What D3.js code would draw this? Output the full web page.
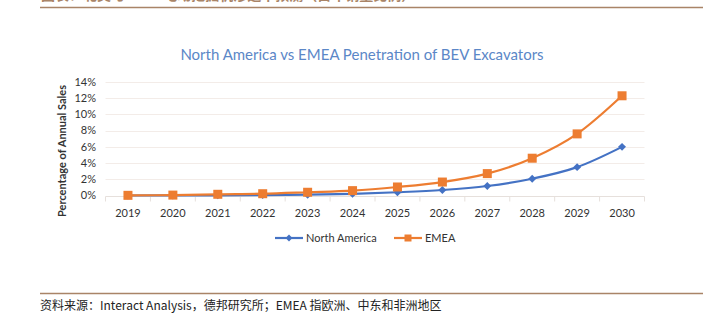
<!DOCTYPE html>
<html>
<head>
<meta charset="utf-8">
<script src="https://cdn.jsdelivr.net/npm/d3@7"></script>
<style>
  html, body { margin: 0; padding: 0; background: #fff; }
  svg { display: block; }
</style>
</head>
<body>
<svg id="chart"></svg>
<script>
// categories and series (share of annual excavator sales, %)
const years = ["2019", "2020", "2021", "2022", "2023", "2024", "2025", "2026", "2027", "2028", "2029", "2030"];
const northAmerica = [0.0, 0.01, 0.02, 0.05, 0.1, 0.2, 0.4, 0.68, 1.17, 2.07, 3.5, 6.0];
const emea = [0.02, 0.05, 0.15, 0.22, 0.4, 0.6, 1.05, 1.66, 2.7, 4.6, 7.6, 12.3];
const yTicks = [0, 2, 4, 6, 8, 10, 12, 14];

const width = 718, height = 326;
const svg = d3.select("#chart").attr("width", width).attr("height", height);

const brown = "#a98467";
const latin = "Lato, 'Liberation Sans', sans-serif";
const cjk = "'Noto Sans CJK SC', sans-serif";

// report header (runs off the top edge) and rules
svg.append("text")
  .attr("x", 41).attr("y", 0)
  .attr("font-family", cjk).attr("font-size", 14).attr("font-weight", "bold")
  .attr("fill", brown)
  .text("图表：北美与EMEA电动挖掘机渗透率预测（占年销量比例）");
svg.append("line").attr("x1", 40).attr("x2", 703).attr("y1", 7.5).attr("y2", 7.5)
  .attr("stroke", brown).attr("stroke-width", 1.5);
svg.append("line").attr("x1", 40).attr("x2", 703).attr("y1", 293.5).attr("y2", 293.5)
  .attr("stroke", brown).attr("stroke-width", 1.5);
svg.append("text")
  .attr("x", 40).attr("y", 310)
  .attr("font-family", cjk).attr("font-size", 12)
  .attr("fill", "#222")
  .text("资料来源：Interact Analysis，德邦研究所；EMEA 指欧洲、中东和非洲地区");

// title
svg.append("text")
  .attr("x", 362).attr("y", 60)
  .attr("text-anchor", "middle")
  .attr("font-family", latin).attr("font-size", 15)
  .attr("fill", "#5b87c7")
  .text("North America vs EMEA Penetration of BEV Excavators");

const plot = { left: 105.5, right: 644.5, top: 82, bottom: 195.5 };

const x = d3.scaleBand().domain(years).range([plot.left, plot.right]);
const y = d3.scaleLinear().domain([0, 14]).range([plot.bottom, plot.top]);
const cx = d => x(d) + x.bandwidth() / 2;

// gridlines
svg.append("g")
  .selectAll("line")
  .data(yTicks.filter(t => t > 0))
  .join("line")
  .attr("x1", plot.left).attr("x2", plot.right)
  .attr("y1", d => Math.round(y(d)) + 0.5).attr("y2", d => Math.round(y(d)) + 0.5)
  .attr("stroke", "#f3ece8");

// y axis labels
svg.append("g")
  .selectAll("text")
  .data(yTicks)
  .join("text")
  .attr("x", 96).attr("y", d => y(d))
  .attr("dy", "0.35em")
  .attr("text-anchor", "end")
  .attr("font-family", latin).attr("font-size", 11)
  .attr("fill", "#333")
  .text(d => d + "%");

// x axis with ticks between categories
const xAxis = svg.append("g")
  .attr("transform", `translate(0,${Math.round(plot.bottom) + 0.5})`);
xAxis.append("line")
  .attr("x1", plot.left).attr("x2", plot.right)
  .attr("stroke", "#e6e0dc");
xAxis.selectAll("line.tick")
  .data(years.concat([null]))
  .join("line")
  .attr("class", "tick")
  .attr("x1", (d, i) => plot.left + i * x.bandwidth())
  .attr("x2", (d, i) => plot.left + i * x.bandwidth())
  .attr("y1", 0).attr("y2", 5)
  .attr("stroke", "#e6e0dc");
xAxis.selectAll("text")
  .data(years)
  .join("text")
  .attr("x", d => cx(d)).attr("y", 20)
  .attr("text-anchor", "middle")
  .attr("font-family", latin).attr("font-size", 11)
  .attr("fill", "#333")
  .text(d => d);

// y axis title
svg.append("text")
  .attr("transform", `translate(66,151) rotate(-90)`)
  .attr("text-anchor", "middle")
  .attr("font-family", latin).attr("font-size", 11).attr("font-weight", "bold")
  .attr("fill", "#333")
  .text("Percentage of Annual Sales");

const blue = "#4472c4", orange = "#ed7d31";
const line = d3.line().x((d, i) => cx(years[i])).y(d => y(d)).curve(d3.curveMonotoneX);

// North America
svg.append("path").datum(northAmerica)
  .attr("d", line).attr("fill", "none")
  .attr("stroke", blue).attr("stroke-width", 2.2);
svg.append("g").selectAll("path")
  .data(northAmerica)
  .join("path")
  .attr("transform", (d, i) => `translate(${cx(years[i])},${y(d)})`)
  .attr("d", d3.symbol(d3.symbolDiamond2, 40))
  .attr("fill", blue);

// EMEA
svg.append("path").datum(emea)
  .attr("d", line).attr("fill", "none")
  .attr("stroke", orange).attr("stroke-width", 2.2);
svg.append("g").selectAll("rect")
  .data(emea)
  .join("rect")
  .attr("x", (d, i) => cx(years[i]) - 4.5)
  .attr("y", d => y(d) - 4.5)
  .attr("width", 9).attr("height", 9)
  .attr("fill", orange);

// legend
const legend = [
  { name: "North America", color: blue, x: 275, marker: "diamond" },
  { name: "EMEA", color: orange, x: 394, marker: "square" }
];
const lg = svg.append("g").selectAll("g")
  .data(legend)
  .join("g")
  .attr("transform", d => `translate(${d.x},238)`);
lg.append("line")
  .attr("x1", 0).attr("x2", 28)
  .attr("stroke", d => d.color).attr("stroke-width", 2.2);
lg.append("path")
  .attr("transform", "translate(14,0)")
  .attr("d", d => d.marker === "diamond"
    ? d3.symbol(d3.symbolDiamond2, 30)()
    : "M-3.5,-3.5h7v7h-7z")
  .attr("fill", d => d.color);
lg.append("text")
  .attr("x", 31).attr("dy", "0.35em")
  .attr("font-family", latin).attr("font-size", 11)
  .attr("fill", "#333")
  .text(d => d.name);
</script>
</body>
</html>
